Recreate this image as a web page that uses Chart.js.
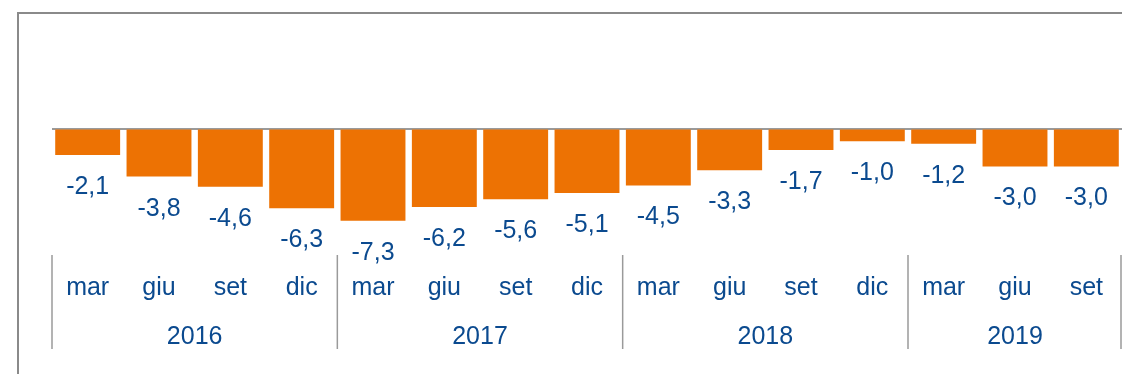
<!DOCTYPE html>
<html lang="it">
<head>
<meta charset="utf-8">
<title>Saldo trimestrale 2016-2019</title>
<script src="https://cdn.jsdelivr.net/npm/chart.js@4/dist/chart.umd.min.js"></script>
<style>
    html, body { margin: 0; padding: 0; background: #fff; }
    .wrap { position: relative; width: 1122px; height: 374px; overflow: hidden; }
    .frame {
        position: absolute; left: 17px; top: 12px; width: 1200px; height: 400px;
        border-top: 2px solid #8a8a8a; border-left: 2px solid #8a8a8a;
    }
    #grafico { position: absolute; left: 0; top: 0; }
</style>
</head>
<body>
<div class="wrap">
    <div class="frame"></div>
    <canvas id="grafico" width="1122" height="374"></canvas>
</div>
<script>

/* Dati */
const mesi = ["mar", "giu", "set", "dic", "mar", "giu", "set", "dic", "mar", "giu", "set", "dic", "mar", "giu", "set"]
const valori = [-2.1, -3.8, -4.6, -6.3, -7.3, -6.2, -5.6, -5.1, -4.5, -3.3, -1.7, -1.0, -1.2, -3.0, -3.0]
const anni = ["2016", "2017", "2018", "2019"]
const centriAnni = [1.5, 5.5, 9.5, 13]
const separatori = [-0.5, 3.5, 7.5, 11.5, 14.5]

const ARANCIO = "#ed7203"
const BLU = "#0b4a8f"
const GRIGIO = "#9a9a9a"
const FONT = "25px 'Liberation Sans', Arial, sans-serif"

Chart.defaults.font.family = "'Liberation Sans', Arial, sans-serif"
Chart.defaults.font.size = 25
Chart.defaults.color = BLU

/* Etichette dei valori sotto le barre, con la virgola decimale */
const etichetteValori = {
    id: "etichetteValori",
    afterDatasetsDraw(chart) {
        const { ctx } = chart
        const meta = chart.getDatasetMeta(0)
        ctx.save()
        ctx.font = FONT
        ctx.fillStyle = BLU
        ctx.textAlign = "center"
        ctx.textBaseline = "alphabetic"
        meta.data.forEach((bar, i) => {
            const testo = valori[i].toFixed(1).replace(".", ",")
            ctx.fillText(testo, bar.x, bar.y + 39)
        })
        ctx.restore()
    }
}

/* Anni sotto i trimestri e linee verticali che li separano */
const gruppiAnni = {
    id: "gruppiAnni",
    afterDraw(chart) {
        const { ctx } = chart
        const x = chart.scales.x
        ctx.save()
        ctx.strokeStyle = GRIGIO
        ctx.lineWidth = 1.5
        separatori.forEach(v => {
            const px = Math.min(x.getPixelForValue(v), chart.width - 1)
            ctx.beginPath()
            ctx.moveTo(px, x.top)
            ctx.lineTo(px, x.top + 94)
            ctx.stroke()
        })
        ctx.font = FONT
        ctx.fillStyle = BLU
        ctx.textAlign = "center"
        ctx.textBaseline = "alphabetic"
        anni.forEach((anno, i) => {
            ctx.fillText(anno, x.getPixelForValue(centriAnni[i]), x.top + 89)
        })
        ctx.restore()
    }
}

const data = {
    labels: mesi,
    datasets: [{
        data: valori,
        backgroundColor: ARANCIO,
        borderWidth: 0,
        barPercentage: 0.91,
        categoryPercentage: 1
    }]
}

const config = {
    type: "bar",
    data: data,
    options: {
        responsive: false,
        animation: false,
        layout: { padding: { top: 52.6, left: 52, right: 0, bottom: 0 } },
        plugins: {
            legend: { display: false },
            tooltip: { enabled: false }
        },
        scales: {
            y: {
                min: -10,
                max: 6,
                ticks: { display: false, stepSize: 2 },
                border: { display: false },
                grid: {
                    drawTicks: false,
                    lineWidth: 2,
                    color: c => c.tick.value === 0 ? GRIGIO : "rgba(0,0,0,0)"
                }
            },
            x: {
                offset: true,
                border: { display: false },
                grid: { display: false, drawTicks: false },
                ticks: { color: BLU, padding: 18, autoSkip: false, maxRotation: 0 },
                afterFit: scale => { scale.height = 119 }
            }
        }
    },
    plugins: [etichetteValori, gruppiAnni]
}

const grafico = new Chart(document.querySelector("#grafico"), config)
</script>
</body>
</html>
